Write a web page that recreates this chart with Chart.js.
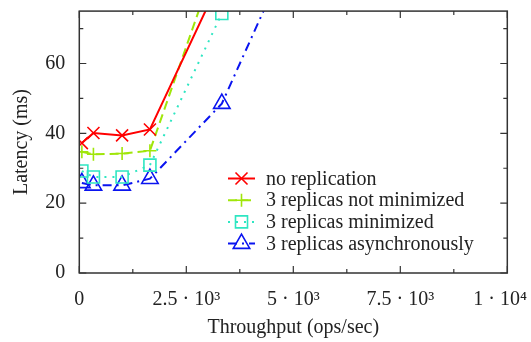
<!DOCTYPE html>
<html>
<head>
<meta charset="utf-8">
<script src="https://cdn.jsdelivr.net/npm/chart.js@4"></script>
<style>
html,body{margin:0;padding:0;background:#fff;}
#wrap{width:531px;height:342px;position:relative;}
</style>
</head>
<body>
<div id="wrap"><canvas id="c" width="531" height="342"></canvas></div>
<script>
// ---- data ----
const seriesNames = ['no replication', '3 replicas not minimized', '3 replicas minimized', '3 replicas asynchronously'];
const xNoRep = [60, 330, 1000, 1650, 3330];
const yNoRep = [37.2, 40.1, 39.4, 41.1, 85];
const xNotMin = [60, 330, 1000, 1650, 3330];
const yNotMin = [34.7, 34.0, 34.2, 35.0, 94];
const xMin = [60, 330, 1000, 1650, 3330];
const yMin = [29.2, 27.5, 27.5, 30.9, 74.3];
const xAsync = [60, 330, 1000, 1650, 3330, 5000];
const yAsync = [25.8, 25.1, 25.1, 27.0, 48.5, 94];
const xTickValues = [0, 2500, 5000, 7500, 10000];
const xTickLabels = ['0', '2.5 · 10³', '5 · 10³', '7.5 · 10³', '1 · 10⁴'];
const yTickLabels = ['0', '20', '40', '60'];

const FONT = "'Liberation Serif', 'DejaVu Serif', serif";
const FS = 20;
const TXT = '#222';

function pts(xs, ys) { return xs.map((x, i) => ({x: x, y: ys[i]})); }

const datasets = [
  {label: seriesNames[0], data: pts(xNoRep, yNoRep), borderColor: '#ff0000', pointStyle: 'crossRot', pointRadius: 8.5, borderDash: []},
  {label: seriesNames[1], data: pts(xNotMin, yNotMin), borderColor: '#a0e60a', pointStyle: 'cross', pointRadius: 6.5, borderDash: [9, 5]},
  {label: seriesNames[2], data: pts(xMin, yMin), borderColor: '#2ee6c2', pointStyle: 'rect', pointRadius: 8.5, borderDash: [2, 6]},
  {label: seriesNames[3], data: pts(xAsync, yAsync), borderColor: '#0a14f0', pointStyle: 'triangle', pointRadius: 9.5, borderDash: [9, 5, 2, 5]}
].map(d => Object.assign(d, {
  backgroundColor: 'rgba(0,0,0,0)',
  pointBorderColor: d.borderColor,
  pointBackgroundColor: 'rgba(0,0,0,0)',
  pointBorderWidth: 1.6,
  borderWidth: 2,
  showLine: true,
  tension: 0,
  pointHoverRadius: d.pointRadius
}));

const framePlugin = {
  id: 'frame',
  afterDraw(chart) {
    const {ctx, chartArea: a, scales} = chart;
    const xs = scales.x, ys = scales.y;
    ctx.save();
    ctx.strokeStyle = '#333';
    ctx.lineWidth = 1.5;
    ctx.strokeRect(a.left, a.top, a.right - a.left, a.bottom - a.top);
    ctx.lineWidth = 1.2;
    ctx.beginPath();
    const xt = xs.ticks.map(t => t.value);
    xt.forEach((v, i) => {
      const p = xs.getPixelForValue(v);
      ctx.moveTo(p, a.bottom); ctx.lineTo(p, a.bottom - 7);
      ctx.moveTo(p, a.top); ctx.lineTo(p, a.top + 7);
      if (i < xt.length - 1) {
        const m = xs.getPixelForValue((v + xt[i + 1]) / 2);
        ctx.moveTo(m, a.bottom); ctx.lineTo(m, a.bottom - 4);
        ctx.moveTo(m, a.top); ctx.lineTo(m, a.top + 4);
      }
    });
    const yt = ys.ticks.map(t => t.value);
    const step = yt[1] - yt[0];
    yt.forEach(v => {
      const p = ys.getPixelForValue(v);
      ctx.moveTo(a.left, p); ctx.lineTo(a.left + 7, p);
      ctx.moveTo(a.right, p); ctx.lineTo(a.right - 7, p);
      const mv = v + step / 2;
      if (mv <= ys.max) {
        const m = ys.getPixelForValue(mv);
        ctx.moveTo(a.left, m); ctx.lineTo(a.left + 4, m);
        ctx.moveTo(a.right, m); ctx.lineTo(a.right - 4, m);
      }
    });
    ctx.stroke();
    ctx.restore();

    // x tick labels (clamped inside canvas)
    ctx.save();
    ctx.fillStyle = TXT;
    ctx.font = FS + 'px ' + FONT;
    ctx.textAlign = 'left';
    ctx.textBaseline = 'middle';
    xt.forEach((v, i) => {
      const lab = xTickLabels[xTickValues.indexOf(v)];
      if (lab === undefined) return;
      const w = ctx.measureText(lab).width;
      let left = xs.getPixelForValue(v) - w / 2;
      if (left + w > 527) left = 527 - w;
      ctx.fillText(lab, left, 300);
    });
    ctx.restore();

    // legend
    ctx.save();
    const rowY = [178.5, 200.2, 221.9, 243.6];
    const x0 = 228, x1 = 255, tx = 266;
    chart.data.datasets.forEach((d, i) => {
      const y = rowY[i];
      ctx.strokeStyle = d.borderColor;
      ctx.fillStyle = 'rgba(0,0,0,0)';
      ctx.lineWidth = d.borderWidth;
      ctx.setLineDash(d.borderDash);
      ctx.beginPath(); ctx.moveTo(x0, y); ctx.lineTo(x1, y); ctx.stroke();
      ctx.setLineDash([]);
      ctx.lineWidth = d.pointBorderWidth;
      Chart.helpers.drawPoint(ctx, {pointStyle: d.pointStyle, radius: d.pointRadius, rotation: 0, borderWidth: d.pointBorderWidth}, (x0 + x1) / 2, y);
      ctx.fillStyle = TXT;
      ctx.font = FS + 'px ' + FONT;
      ctx.textAlign = 'left';
      ctx.textBaseline = 'middle';
      ctx.fillText(d.label, tx, y + 1);
    });
    ctx.restore();
  }
};

new Chart(document.getElementById('c'), {
  type: 'scatter',
  data: {datasets: datasets},
  options: {
    responsive: false,
    animation: false,
    devicePixelRatio: 1,
    layout: {padding: {left: 0, top: 10, right: 23.7, bottom: 0}},
    plugins: {legend: {display: false}, tooltip: {enabled: false}},
    scales: {
      x: {
        type: 'linear', min: 0, max: 10000,
        afterFit(s) { s.height = 69; s.paddingLeft = 0; s.paddingRight = 0; },
        afterBuildTicks(s) { s.ticks = xTickValues.map(v => ({value: v})); },
        grid: {display: false, drawTicks: false},
        border: {display: false},
        ticks: {display: false},
        title: {display: true, text: 'Throughput (ops/sec)', color: TXT, font: {family: FONT, size: FS}, padding: {top: 0, bottom: 2}}
      },
      y: {
        type: 'linear', min: 0, max: 75,
        afterFit(s) { s.width = 79.3; s.paddingTop = 0; s.paddingBottom = 0; },
        grid: {display: false, drawTicks: false},
        border: {display: false},
        ticks: {
          stepSize: 20, includeBounds: false, padding: 14, color: TXT, font: {family: FONT, size: FS},
          callback: (v) => { const i = v / 20; return yTickLabels[i] !== undefined ? yTickLabels[i] : ''; }
        },
        title: {display: true, text: 'Latency (ms)', color: TXT, font: {family: FONT, size: FS}, padding: {top: 10, bottom: 0}}
      }
    }
  },
  plugins: [framePlugin]
});
</script>
</body>
</html>
